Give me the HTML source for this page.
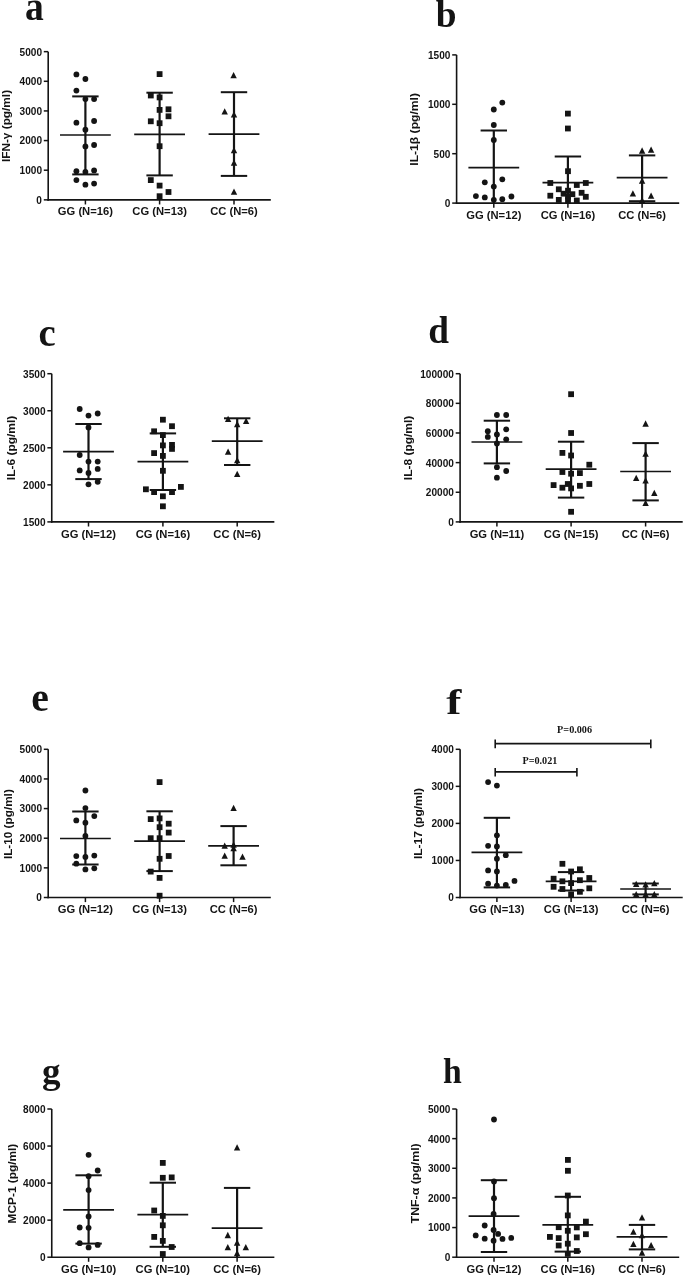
<!DOCTYPE html>
<html><head><meta charset="utf-8"><title>Cytokine levels by genotype</title>
<style>
html,body{margin:0;padding:0;background:#fff;}
body{width:685px;height:1277px;overflow:hidden;}
svg{display:block;will-change:transform;}
text{fill:#141414;}
.L{font-family:"Liberation Serif",serif;font-weight:bold;font-size:100px;}
.T text{font-family:"Liberation Sans",sans-serif;font-weight:bold;font-size:10.2px;text-anchor:end;}
.X text{font-family:"Liberation Sans",sans-serif;font-weight:bold;font-size:11.0px;text-anchor:middle;}
.Y{font-family:"Liberation Sans",sans-serif;font-weight:bold;font-size:11.2px;text-anchor:middle;}
.P{font-family:"Liberation Serif",serif;font-weight:bold;font-size:10.2px;text-anchor:middle;}
</style></head>
<body><svg width="685" height="1277" viewBox="0 0 685 1277">
<rect width="685" height="1277" fill="#fff"/>
<text class="L" transform="matrix(0.37558,0,0,0.39666,24.89,19.91)">a</text>
<g stroke="#141414" stroke-linecap="butt" fill="none">
<line x1="48.2" y1="51.65" x2="48.2" y2="200.65" stroke-width="1.6"/>
<line x1="47.4" y1="199.85" x2="270.8" y2="199.85" stroke-width="1.6"/>
<line x1="43.8" y1="199.85" x2="48.2" y2="199.85" stroke-width="1.5"/>
<line x1="43.8" y1="170.21" x2="48.2" y2="170.21" stroke-width="1.5"/>
<line x1="43.8" y1="140.57" x2="48.2" y2="140.57" stroke-width="1.5"/>
<line x1="43.8" y1="110.93" x2="48.2" y2="110.93" stroke-width="1.5"/>
<line x1="43.8" y1="81.29" x2="48.2" y2="81.29" stroke-width="1.5"/>
<line x1="43.8" y1="51.65" x2="48.2" y2="51.65" stroke-width="1.5"/>
<line x1="85.4" y1="199.85" x2="85.4" y2="204.45" stroke-width="1.5"/>
<line x1="159.6" y1="199.85" x2="159.6" y2="204.45" stroke-width="1.5"/>
<line x1="234" y1="199.85" x2="234" y2="204.45" stroke-width="1.5"/>
</g>
<g class="T">
<text transform="translate(42,203.75) scale(0.99,1.06)">0</text>
<text transform="translate(42,174.11) scale(0.99,1.06)">1000</text>
<text transform="translate(42,144.47) scale(0.99,1.06)">2000</text>
<text transform="translate(42,114.83) scale(0.99,1.06)">3000</text>
<text transform="translate(42,85.19) scale(0.99,1.06)">4000</text>
<text transform="translate(42,55.55) scale(0.99,1.06)">5000</text>
</g>
<g class="X">
<text transform="translate(85.4,215.45) scale(1.02,1.06)">GG (N=16)</text>
<text transform="translate(159.6,215.45) scale(1.02,1.06)">CG (N=13)</text>
<text transform="translate(234,215.45) scale(1.02,1.06)">CC (N=6)</text>
</g>
<text class="Y" transform="translate(10.4,126) rotate(-90)" x="0" y="0" textLength="72.2" lengthAdjust="spacingAndGlyphs">IFN-γ (pg/ml)</text>
<g fill="#141414">
<circle cx="76.4" cy="74.4" r="2.9"/>
<circle cx="85.4" cy="79" r="2.9"/>
<circle cx="76.4" cy="90.6" r="2.9"/>
<circle cx="85.4" cy="99.1" r="2.9"/>
<circle cx="94.1" cy="99.1" r="2.9"/>
<circle cx="76.4" cy="122.7" r="2.9"/>
<circle cx="94.1" cy="121" r="2.9"/>
<circle cx="85.4" cy="129.7" r="2.9"/>
<circle cx="85.4" cy="146.4" r="2.9"/>
<circle cx="94.1" cy="145" r="2.9"/>
<circle cx="76.4" cy="171.2" r="2.9"/>
<circle cx="85.4" cy="171.9" r="2.9"/>
<circle cx="94.1" cy="170.4" r="2.9"/>
<circle cx="76.4" cy="180.1" r="2.9"/>
<circle cx="85.4" cy="184.7" r="2.9"/>
<circle cx="94.1" cy="183.6" r="2.9"/>
<rect x="156.7" y="71.2" width="5.8" height="5.8"/>
<rect x="147.9" y="92.6" width="5.8" height="5.8"/>
<rect x="156.7" y="94.5" width="5.8" height="5.8"/>
<rect x="156.7" y="107" width="5.8" height="5.8"/>
<rect x="165.6" y="106.4" width="5.8" height="5.8"/>
<rect x="165.6" y="113.4" width="5.8" height="5.8"/>
<rect x="147.9" y="118.4" width="5.8" height="5.8"/>
<rect x="156.7" y="120.3" width="5.8" height="5.8"/>
<rect x="156.7" y="143.3" width="5.8" height="5.8"/>
<rect x="147.9" y="177.2" width="5.8" height="5.8"/>
<rect x="156.7" y="182.7" width="5.8" height="5.8"/>
<rect x="165.6" y="189.1" width="5.8" height="5.8"/>
<rect x="156.7" y="193.3" width="5.8" height="5.8"/>
<polygon points="233.6,72.03 230.4,78.33 236.8,78.33"/>
<polygon points="224.7,108.13 221.5,114.43 227.9,114.43"/>
<polygon points="234,111.23 230.8,117.53 237.2,117.53"/>
<polygon points="234,146.94 230.8,153.24 237.2,153.24"/>
<polygon points="234,159.44 230.8,165.74 237.2,165.74"/>
<polygon points="234,188.53 230.8,194.84 237.2,194.84"/>
</g>
<g stroke="#141414" fill="none">
<line x1="85.4" y1="96.4" x2="85.4" y2="174.4" stroke-width="2.2"/>
<line x1="72.2" y1="96.4" x2="98.6" y2="96.4" stroke-width="2"/>
<line x1="72.2" y1="174.4" x2="98.6" y2="174.4" stroke-width="2"/>
<line x1="60" y1="135" x2="110.8" y2="135" stroke-width="1.7"/>
<line x1="159.6" y1="92.7" x2="159.6" y2="175.4" stroke-width="2.2"/>
<line x1="146.4" y1="92.7" x2="172.8" y2="92.7" stroke-width="2"/>
<line x1="146.4" y1="175.4" x2="172.8" y2="175.4" stroke-width="2"/>
<line x1="134.2" y1="134.3" x2="185" y2="134.3" stroke-width="1.7"/>
<line x1="234" y1="92.2" x2="234" y2="175.9" stroke-width="2.2"/>
<line x1="220.8" y1="92.2" x2="247.2" y2="92.2" stroke-width="2"/>
<line x1="220.8" y1="175.9" x2="247.2" y2="175.9" stroke-width="2"/>
<line x1="208.6" y1="134.2" x2="259.4" y2="134.2" stroke-width="1.7"/>
</g>
<text class="L" transform="matrix(0.37381,0,0,0.37378,435.73,26.83)">b</text>
<g stroke="#141414" stroke-linecap="butt" fill="none">
<line x1="456.6" y1="54.9" x2="456.6" y2="203.9" stroke-width="1.6"/>
<line x1="455.8" y1="203.1" x2="679.2" y2="203.1" stroke-width="1.6"/>
<line x1="452.2" y1="203.1" x2="456.6" y2="203.1" stroke-width="1.5"/>
<line x1="452.2" y1="153.7" x2="456.6" y2="153.7" stroke-width="1.5"/>
<line x1="452.2" y1="104.3" x2="456.6" y2="104.3" stroke-width="1.5"/>
<line x1="452.2" y1="54.9" x2="456.6" y2="54.9" stroke-width="1.5"/>
<line x1="493.8" y1="203.1" x2="493.8" y2="207.7" stroke-width="1.5"/>
<line x1="567.9" y1="203.1" x2="567.9" y2="207.7" stroke-width="1.5"/>
<line x1="642.1" y1="203.1" x2="642.1" y2="207.7" stroke-width="1.5"/>
</g>
<g class="T">
<text transform="translate(450.4,207) scale(0.99,1.06)">0</text>
<text transform="translate(450.4,157.6) scale(0.99,1.06)">500</text>
<text transform="translate(450.4,108.2) scale(0.99,1.06)">1000</text>
<text transform="translate(450.4,58.8) scale(0.99,1.06)">1500</text>
</g>
<g class="X">
<text transform="translate(493.8,218.7) scale(1.02,1.06)">GG (N=12)</text>
<text transform="translate(567.9,218.7) scale(1.02,1.06)">CG (N=16)</text>
<text transform="translate(642.1,218.7) scale(1.02,1.06)">CC (N=6)</text>
</g>
<text class="Y" transform="translate(418.4,129.35) rotate(-90)" x="0" y="0" textLength="72.7" lengthAdjust="spacingAndGlyphs">IL-1β (pg/ml)</text>
<g fill="#141414">
<circle cx="502.3" cy="102.6" r="2.9"/>
<circle cx="493.8" cy="109.5" r="2.9"/>
<circle cx="493.8" cy="125" r="2.9"/>
<circle cx="493.8" cy="140" r="2.9"/>
<circle cx="484.8" cy="182.3" r="2.9"/>
<circle cx="502.3" cy="179.3" r="2.9"/>
<circle cx="493.8" cy="186.6" r="2.9"/>
<circle cx="475.9" cy="196.1" r="2.9"/>
<circle cx="484.8" cy="197.4" r="2.9"/>
<circle cx="493.8" cy="199.8" r="2.9"/>
<circle cx="502.3" cy="199.2" r="2.9"/>
<circle cx="511.4" cy="196.5" r="2.9"/>
<rect x="565" y="110.7" width="5.8" height="5.8"/>
<rect x="565" y="125.6" width="5.8" height="5.8"/>
<rect x="565.1" y="168.3" width="5.8" height="5.8"/>
<rect x="547.4" y="180.1" width="5.8" height="5.8"/>
<rect x="582.9" y="180.1" width="5.8" height="5.8"/>
<rect x="573.9" y="182.1" width="5.8" height="5.8"/>
<rect x="555.9" y="186.4" width="5.8" height="5.8"/>
<rect x="565.1" y="187.8" width="5.8" height="5.8"/>
<rect x="547.4" y="192.8" width="5.8" height="5.8"/>
<rect x="560.7" y="190.8" width="5.8" height="5.8"/>
<rect x="569.5" y="191.3" width="5.8" height="5.8"/>
<rect x="578.7" y="189.9" width="5.8" height="5.8"/>
<rect x="582.9" y="193.9" width="5.8" height="5.8"/>
<rect x="555.9" y="197" width="5.8" height="5.8"/>
<rect x="565.1" y="197.4" width="5.8" height="5.8"/>
<rect x="573.9" y="197.6" width="5.8" height="5.8"/>
<rect x="565.1" y="193.6" width="5.8" height="5.8"/>
<polygon points="642.1,147.34 638.9,153.64 645.3,153.64"/>
<polygon points="651.1,146.44 647.9,152.74 654.3,152.74"/>
<polygon points="642.1,177.53 638.9,183.84 645.3,183.84"/>
<polygon points="632.9,190.23 629.7,196.53 636.1,196.53"/>
<polygon points="651.1,192.44 647.9,198.74 654.3,198.74"/>
<polygon points="642.1,197.03 638.9,203.34 645.3,203.34"/>
</g>
<g stroke="#141414" fill="none">
<line x1="493.8" y1="130.5" x2="493.8" y2="203.1" stroke-width="2.2"/>
<line x1="480.6" y1="130.5" x2="507" y2="130.5" stroke-width="2"/>
<line x1="468.4" y1="167.7" x2="519.2" y2="167.7" stroke-width="1.7"/>
<line x1="567.9" y1="156.5" x2="567.9" y2="203.1" stroke-width="2.2"/>
<line x1="554.7" y1="156.5" x2="581.1" y2="156.5" stroke-width="2"/>
<line x1="542.5" y1="182.6" x2="593.3" y2="182.6" stroke-width="1.7"/>
<line x1="642.1" y1="155.4" x2="642.1" y2="201.2" stroke-width="2.2"/>
<line x1="628.9" y1="155.4" x2="655.3" y2="155.4" stroke-width="2"/>
<line x1="628.9" y1="201.2" x2="655.3" y2="201.2" stroke-width="2"/>
<line x1="616.7" y1="177.7" x2="667.5" y2="177.7" stroke-width="1.7"/>
</g>
<text class="L" transform="matrix(0.38725,0,0,0.39545,38.38,345.93)">c</text>
<g stroke="#141414" stroke-linecap="butt" fill="none">
<line x1="51.75" y1="373.7" x2="51.75" y2="522.7" stroke-width="1.6"/>
<line x1="50.95" y1="521.9" x2="274.35" y2="521.9" stroke-width="1.6"/>
<line x1="47.35" y1="521.9" x2="51.75" y2="521.9" stroke-width="1.5"/>
<line x1="47.35" y1="484.85" x2="51.75" y2="484.85" stroke-width="1.5"/>
<line x1="47.35" y1="447.8" x2="51.75" y2="447.8" stroke-width="1.5"/>
<line x1="47.35" y1="410.75" x2="51.75" y2="410.75" stroke-width="1.5"/>
<line x1="47.35" y1="373.7" x2="51.75" y2="373.7" stroke-width="1.5"/>
<line x1="88.5" y1="521.9" x2="88.5" y2="526.5" stroke-width="1.5"/>
<line x1="162.9" y1="521.9" x2="162.9" y2="526.5" stroke-width="1.5"/>
<line x1="237.2" y1="521.9" x2="237.2" y2="526.5" stroke-width="1.5"/>
</g>
<g class="T">
<text transform="translate(45.55,525.8) scale(0.99,1.06)">1500</text>
<text transform="translate(45.55,488.75) scale(0.99,1.06)">2000</text>
<text transform="translate(45.55,451.7) scale(0.99,1.06)">2500</text>
<text transform="translate(45.55,414.65) scale(0.99,1.06)">3000</text>
<text transform="translate(45.55,377.6) scale(0.99,1.06)">3500</text>
</g>
<g class="X">
<text transform="translate(88.5,537.5) scale(1.02,1.06)">GG (N=12)</text>
<text transform="translate(162.9,537.5) scale(1.02,1.06)">CG (N=16)</text>
<text transform="translate(237.2,537.5) scale(1.02,1.06)">CC (N=6)</text>
</g>
<text class="Y" transform="translate(14.9,447.95) rotate(-90)" x="0" y="0" textLength="64.5" lengthAdjust="spacingAndGlyphs">IL-6 (pg/ml)</text>
<g fill="#141414">
<circle cx="79.7" cy="409" r="2.9"/>
<circle cx="88.5" cy="415.6" r="2.9"/>
<circle cx="97.7" cy="413.5" r="2.9"/>
<circle cx="88.5" cy="427.4" r="2.9"/>
<circle cx="79.7" cy="455" r="2.9"/>
<circle cx="88.5" cy="461.6" r="2.9"/>
<circle cx="97.7" cy="461.6" r="2.9"/>
<circle cx="79.7" cy="470.4" r="2.9"/>
<circle cx="97.7" cy="468.9" r="2.9"/>
<circle cx="88.5" cy="473" r="2.9"/>
<circle cx="88.5" cy="484.3" r="2.9"/>
<circle cx="97.7" cy="481.8" r="2.9"/>
<rect x="160" y="416.8" width="5.8" height="5.8"/>
<rect x="169.1" y="423.3" width="5.8" height="5.8"/>
<rect x="151.2" y="428.4" width="5.8" height="5.8"/>
<rect x="160" y="432.2" width="5.8" height="5.8"/>
<rect x="160" y="442.5" width="5.8" height="5.8"/>
<rect x="169.1" y="442" width="5.8" height="5.8"/>
<rect x="169.1" y="446" width="5.8" height="5.8"/>
<rect x="151.2" y="450.2" width="5.8" height="5.8"/>
<rect x="160" y="453" width="5.8" height="5.8"/>
<rect x="160" y="467.9" width="5.8" height="5.8"/>
<rect x="143" y="486.4" width="5.8" height="5.8"/>
<rect x="151.2" y="489.2" width="5.8" height="5.8"/>
<rect x="169.1" y="489.2" width="5.8" height="5.8"/>
<rect x="178" y="484" width="5.8" height="5.8"/>
<rect x="160" y="493.4" width="5.8" height="5.8"/>
<rect x="160" y="503.4" width="5.8" height="5.8"/>
<polygon points="228.1,415.74 224.9,422.03 231.3,422.03"/>
<polygon points="246.1,417.64 242.9,423.94 249.3,423.94"/>
<polygon points="237.2,420.84 234,427.13 240.4,427.13"/>
<polygon points="228.1,448.44 224.9,454.73 231.3,454.73"/>
<polygon points="237.2,457.04 234,463.33 240.4,463.33"/>
<polygon points="237.2,470.64 234,476.94 240.4,476.94"/>
</g>
<g stroke="#141414" fill="none">
<line x1="88.5" y1="424" x2="88.5" y2="479.1" stroke-width="2.2"/>
<line x1="75.3" y1="424" x2="101.7" y2="424" stroke-width="2"/>
<line x1="75.3" y1="479.1" x2="101.7" y2="479.1" stroke-width="2"/>
<line x1="63.1" y1="451.6" x2="113.9" y2="451.6" stroke-width="1.7"/>
<line x1="162.9" y1="433.4" x2="162.9" y2="490" stroke-width="2.2"/>
<line x1="149.7" y1="433.4" x2="176.1" y2="433.4" stroke-width="2"/>
<line x1="149.7" y1="490" x2="176.1" y2="490" stroke-width="2"/>
<line x1="137.5" y1="461.7" x2="188.3" y2="461.7" stroke-width="1.7"/>
<line x1="237.2" y1="418.3" x2="237.2" y2="465" stroke-width="2.2"/>
<line x1="224" y1="418.3" x2="250.4" y2="418.3" stroke-width="2"/>
<line x1="224" y1="465" x2="250.4" y2="465" stroke-width="2"/>
<line x1="211.8" y1="441.2" x2="262.6" y2="441.2" stroke-width="1.7"/>
</g>
<text class="L" transform="matrix(0.37272,0,0,0.37094,428.19,342.74)">d</text>
<g stroke="#141414" stroke-linecap="butt" fill="none">
<line x1="460.1" y1="373.7" x2="460.1" y2="522.7" stroke-width="1.6"/>
<line x1="459.3" y1="521.9" x2="682.7" y2="521.9" stroke-width="1.6"/>
<line x1="455.7" y1="521.9" x2="460.1" y2="521.9" stroke-width="1.5"/>
<line x1="455.7" y1="492.26" x2="460.1" y2="492.26" stroke-width="1.5"/>
<line x1="455.7" y1="462.62" x2="460.1" y2="462.62" stroke-width="1.5"/>
<line x1="455.7" y1="432.98" x2="460.1" y2="432.98" stroke-width="1.5"/>
<line x1="455.7" y1="403.34" x2="460.1" y2="403.34" stroke-width="1.5"/>
<line x1="455.7" y1="373.7" x2="460.1" y2="373.7" stroke-width="1.5"/>
<line x1="496.9" y1="521.9" x2="496.9" y2="526.5" stroke-width="1.5"/>
<line x1="571.1" y1="521.9" x2="571.1" y2="526.5" stroke-width="1.5"/>
<line x1="645.6" y1="521.9" x2="645.6" y2="526.5" stroke-width="1.5"/>
</g>
<g class="T">
<text transform="translate(453.9,525.8) scale(0.99,1.06)">0</text>
<text transform="translate(453.9,496.16) scale(0.99,1.06)">20000</text>
<text transform="translate(453.9,466.52) scale(0.99,1.06)">40000</text>
<text transform="translate(453.9,436.88) scale(0.99,1.06)">60000</text>
<text transform="translate(453.9,407.24) scale(0.99,1.06)">80000</text>
<text transform="translate(453.9,377.6) scale(0.99,1.06)">100000</text>
</g>
<g class="X">
<text transform="translate(496.9,537.5) scale(1.02,1.06)">GG (N=11)</text>
<text transform="translate(571.1,537.5) scale(1.02,1.06)">CG (N=15)</text>
<text transform="translate(645.6,537.5) scale(1.02,1.06)">CC (N=6)</text>
</g>
<text class="Y" transform="translate(411.7,447.95) rotate(-90)" x="0" y="0" textLength="64.5" lengthAdjust="spacingAndGlyphs">IL-8 (pg/ml)</text>
<g fill="#141414">
<circle cx="496.9" cy="415" r="2.9"/>
<circle cx="506.2" cy="415" r="2.9"/>
<circle cx="487.8" cy="431.2" r="2.9"/>
<circle cx="506.2" cy="429.3" r="2.9"/>
<circle cx="496.9" cy="434.4" r="2.9"/>
<circle cx="487.8" cy="436.9" r="2.9"/>
<circle cx="506.2" cy="439.3" r="2.9"/>
<circle cx="496.9" cy="443.5" r="2.9"/>
<circle cx="496.9" cy="467.2" r="2.9"/>
<circle cx="506.2" cy="471" r="2.9"/>
<circle cx="496.9" cy="477.7" r="2.9"/>
<rect x="568.2" y="391.3" width="5.8" height="5.8"/>
<rect x="568.2" y="430.1" width="5.8" height="5.8"/>
<rect x="559.5" y="450" width="5.8" height="5.8"/>
<rect x="568.2" y="452.6" width="5.8" height="5.8"/>
<rect x="586.4" y="461.8" width="5.8" height="5.8"/>
<rect x="559.5" y="469.1" width="5.8" height="5.8"/>
<rect x="568.2" y="470.8" width="5.8" height="5.8"/>
<rect x="577" y="470.2" width="5.8" height="5.8"/>
<rect x="550.7" y="482.2" width="5.8" height="5.8"/>
<rect x="559.5" y="484.8" width="5.8" height="5.8"/>
<rect x="564.9" y="481.1" width="5.8" height="5.8"/>
<rect x="568.2" y="485.5" width="5.8" height="5.8"/>
<rect x="577" y="482.9" width="5.8" height="5.8"/>
<rect x="586.4" y="481.1" width="5.8" height="5.8"/>
<rect x="568.2" y="508.9" width="5.8" height="5.8"/>
<polygon points="645.6,420.34 642.4,426.63 648.8,426.63"/>
<polygon points="645.6,450.54 642.4,456.83 648.8,456.83"/>
<polygon points="636.2,474.64 633,480.94 639.4,480.94"/>
<polygon points="645.6,477.24 642.4,483.53 648.8,483.53"/>
<polygon points="654.3,489.74 651.1,496.03 657.5,496.03"/>
<polygon points="645.6,499.64 642.4,505.94 648.8,505.94"/>
</g>
<g stroke="#141414" fill="none">
<line x1="496.9" y1="420.7" x2="496.9" y2="463.4" stroke-width="2.2"/>
<line x1="483.7" y1="420.7" x2="510.1" y2="420.7" stroke-width="2"/>
<line x1="483.7" y1="463.4" x2="510.1" y2="463.4" stroke-width="2"/>
<line x1="471.5" y1="442" x2="522.3" y2="442" stroke-width="1.7"/>
<line x1="571.1" y1="441.7" x2="571.1" y2="497.6" stroke-width="2.2"/>
<line x1="557.9" y1="441.7" x2="584.3" y2="441.7" stroke-width="2"/>
<line x1="557.9" y1="497.6" x2="584.3" y2="497.6" stroke-width="2"/>
<line x1="545.7" y1="469.1" x2="596.5" y2="469.1" stroke-width="1.7"/>
<line x1="645.6" y1="443.1" x2="645.6" y2="500.4" stroke-width="2.2"/>
<line x1="632.4" y1="443.1" x2="658.8" y2="443.1" stroke-width="2"/>
<line x1="632.4" y1="500.4" x2="658.8" y2="500.4" stroke-width="2"/>
<line x1="620.2" y1="471.5" x2="671" y2="471.5" stroke-width="1.7"/>
</g>
<text class="L" transform="matrix(0.39605,0,0,0.39625,31.25,710.93)">e</text>
<g stroke="#141414" stroke-linecap="butt" fill="none">
<line x1="48.2" y1="749.3" x2="48.2" y2="898.3" stroke-width="1.6"/>
<line x1="47.4" y1="897.5" x2="270.8" y2="897.5" stroke-width="1.6"/>
<line x1="43.8" y1="897.5" x2="48.2" y2="897.5" stroke-width="1.5"/>
<line x1="43.8" y1="867.86" x2="48.2" y2="867.86" stroke-width="1.5"/>
<line x1="43.8" y1="838.22" x2="48.2" y2="838.22" stroke-width="1.5"/>
<line x1="43.8" y1="808.58" x2="48.2" y2="808.58" stroke-width="1.5"/>
<line x1="43.8" y1="778.94" x2="48.2" y2="778.94" stroke-width="1.5"/>
<line x1="43.8" y1="749.3" x2="48.2" y2="749.3" stroke-width="1.5"/>
<line x1="85.4" y1="897.5" x2="85.4" y2="902.1" stroke-width="1.5"/>
<line x1="159.6" y1="897.5" x2="159.6" y2="902.1" stroke-width="1.5"/>
<line x1="233.6" y1="897.5" x2="233.6" y2="902.1" stroke-width="1.5"/>
</g>
<g class="T">
<text transform="translate(42,901.4) scale(0.99,1.06)">0</text>
<text transform="translate(42,871.76) scale(0.99,1.06)">1000</text>
<text transform="translate(42,842.12) scale(0.99,1.06)">2000</text>
<text transform="translate(42,812.48) scale(0.99,1.06)">3000</text>
<text transform="translate(42,782.84) scale(0.99,1.06)">4000</text>
<text transform="translate(42,753.2) scale(0.99,1.06)">5000</text>
</g>
<g class="X">
<text transform="translate(85.4,913.1) scale(1.02,1.06)">GG (N=12)</text>
<text transform="translate(159.6,913.1) scale(1.02,1.06)">CG (N=13)</text>
<text transform="translate(233.6,913.1) scale(1.02,1.06)">CC (N=6)</text>
</g>
<text class="Y" transform="translate(11.9,824.15) rotate(-90)" x="0" y="0" textLength="69.9" lengthAdjust="spacingAndGlyphs">IL-10 (pg/ml)</text>
<g fill="#141414">
<circle cx="85.4" cy="790.5" r="2.9"/>
<circle cx="85.4" cy="808.1" r="2.9"/>
<circle cx="76.3" cy="820.4" r="2.9"/>
<circle cx="85.4" cy="822.7" r="2.9"/>
<circle cx="94.3" cy="816.1" r="2.9"/>
<circle cx="85.4" cy="836" r="2.9"/>
<circle cx="76.3" cy="856.1" r="2.9"/>
<circle cx="85.4" cy="856.9" r="2.9"/>
<circle cx="94.3" cy="855.6" r="2.9"/>
<circle cx="76.3" cy="863.7" r="2.9"/>
<circle cx="85.4" cy="869.4" r="2.9"/>
<circle cx="94.3" cy="868.3" r="2.9"/>
<rect x="156.7" y="779.2" width="5.8" height="5.8"/>
<rect x="147.8" y="816.2" width="5.8" height="5.8"/>
<rect x="156.7" y="815.5" width="5.8" height="5.8"/>
<rect x="165.8" y="820.8" width="5.8" height="5.8"/>
<rect x="156.7" y="824.3" width="5.8" height="5.8"/>
<rect x="165.8" y="829.7" width="5.8" height="5.8"/>
<rect x="147.8" y="835.3" width="5.8" height="5.8"/>
<rect x="156.7" y="835.3" width="5.8" height="5.8"/>
<rect x="165.8" y="853.1" width="5.8" height="5.8"/>
<rect x="156.7" y="855.9" width="5.8" height="5.8"/>
<rect x="147.8" y="868.7" width="5.8" height="5.8"/>
<rect x="156.7" y="875" width="5.8" height="5.8"/>
<rect x="156.7" y="892.8" width="5.8" height="5.8"/>
<polygon points="233.6,804.63 230.4,810.94 236.8,810.94"/>
<polygon points="224.7,842.43 221.5,848.74 227.9,848.74"/>
<polygon points="233.6,844.83 230.4,851.13 236.8,851.13"/>
<polygon points="224.7,852.53 221.5,858.84 227.9,858.84"/>
<polygon points="242.5,853.43 239.3,859.74 245.7,859.74"/>
<polygon points="233.6,841.53 230.4,847.84 236.8,847.84"/>
</g>
<g stroke="#141414" fill="none">
<line x1="85.4" y1="811.5" x2="85.4" y2="864.5" stroke-width="2.2"/>
<line x1="72.2" y1="811.5" x2="98.6" y2="811.5" stroke-width="2"/>
<line x1="72.2" y1="864.5" x2="98.6" y2="864.5" stroke-width="2"/>
<line x1="60" y1="838.5" x2="110.8" y2="838.5" stroke-width="1.7"/>
<line x1="159.6" y1="811.3" x2="159.6" y2="871.1" stroke-width="2.2"/>
<line x1="146.4" y1="811.3" x2="172.8" y2="811.3" stroke-width="2"/>
<line x1="146.4" y1="871.1" x2="172.8" y2="871.1" stroke-width="2"/>
<line x1="134.2" y1="841.2" x2="185" y2="841.2" stroke-width="1.7"/>
<line x1="233.6" y1="826.1" x2="233.6" y2="865.3" stroke-width="2.2"/>
<line x1="220.4" y1="826.1" x2="246.8" y2="826.1" stroke-width="2"/>
<line x1="220.4" y1="865.3" x2="246.8" y2="865.3" stroke-width="2"/>
<line x1="208.2" y1="845.9" x2="259" y2="845.9" stroke-width="1.7"/>
</g>
<text class="L" transform="matrix(0.45312,0,0,0.36500,446.37,713.9)">f</text>
<g stroke="#141414" stroke-linecap="butt" fill="none">
<line x1="460.1" y1="749.3" x2="460.1" y2="898.3" stroke-width="1.6"/>
<line x1="459.3" y1="897.5" x2="682.7" y2="897.5" stroke-width="1.6"/>
<line x1="455.7" y1="897.5" x2="460.1" y2="897.5" stroke-width="1.5"/>
<line x1="455.7" y1="860.45" x2="460.1" y2="860.45" stroke-width="1.5"/>
<line x1="455.7" y1="823.4" x2="460.1" y2="823.4" stroke-width="1.5"/>
<line x1="455.7" y1="786.35" x2="460.1" y2="786.35" stroke-width="1.5"/>
<line x1="455.7" y1="749.3" x2="460.1" y2="749.3" stroke-width="1.5"/>
<line x1="496.9" y1="897.5" x2="496.9" y2="902.1" stroke-width="1.5"/>
<line x1="571.1" y1="897.5" x2="571.1" y2="902.1" stroke-width="1.5"/>
<line x1="645.6" y1="897.5" x2="645.6" y2="902.1" stroke-width="1.5"/>
</g>
<g class="T">
<text transform="translate(453.9,901.4) scale(0.99,1.06)">0</text>
<text transform="translate(453.9,864.35) scale(0.99,1.06)">1000</text>
<text transform="translate(453.9,827.3) scale(0.99,1.06)">2000</text>
<text transform="translate(453.9,790.25) scale(0.99,1.06)">3000</text>
<text transform="translate(453.9,753.2) scale(0.99,1.06)">4000</text>
</g>
<g class="X">
<text transform="translate(496.9,913.1) scale(1.02,1.06)">GG (N=13)</text>
<text transform="translate(571.1,913.1) scale(1.02,1.06)">CG (N=13)</text>
<text transform="translate(645.6,913.1) scale(1.02,1.06)">CC (N=6)</text>
</g>
<text class="Y" transform="translate(421.8,823.55) rotate(-90)" x="0" y="0" textLength="71.1" lengthAdjust="spacingAndGlyphs">IL-17 (pg/ml)</text>
<g fill="#141414">
<circle cx="488.1" cy="782.1" r="2.9"/>
<circle cx="496.9" cy="785.6" r="2.9"/>
<circle cx="496.9" cy="835.3" r="2.9"/>
<circle cx="488.1" cy="845.8" r="2.9"/>
<circle cx="496.9" cy="846.5" r="2.9"/>
<circle cx="505.8" cy="855.2" r="2.9"/>
<circle cx="496.9" cy="858.7" r="2.9"/>
<circle cx="488.1" cy="870.4" r="2.9"/>
<circle cx="496.9" cy="871.5" r="2.9"/>
<circle cx="514.5" cy="880.9" r="2.9"/>
<circle cx="488.1" cy="883.7" r="2.9"/>
<circle cx="496.9" cy="885.6" r="2.9"/>
<circle cx="505.8" cy="884.9" r="2.9"/>
<rect x="559.5" y="860.9" width="5.8" height="5.8"/>
<rect x="568.2" y="868.6" width="5.8" height="5.8"/>
<rect x="577" y="866.4" width="5.8" height="5.8"/>
<rect x="550.7" y="875.8" width="5.8" height="5.8"/>
<rect x="559.5" y="878.4" width="5.8" height="5.8"/>
<rect x="568.2" y="880.2" width="5.8" height="5.8"/>
<rect x="577" y="877.3" width="5.8" height="5.8"/>
<rect x="586.4" y="875.1" width="5.8" height="5.8"/>
<rect x="550.7" y="883.9" width="5.8" height="5.8"/>
<rect x="559.5" y="886.1" width="5.8" height="5.8"/>
<rect x="577" y="888.9" width="5.8" height="5.8"/>
<rect x="586.4" y="885.4" width="5.8" height="5.8"/>
<rect x="568.2" y="891.5" width="5.8" height="5.8"/>
<polygon points="636.2,880.74 633,887.04 639.4,887.04"/>
<polygon points="645.6,881.13 642.4,887.44 648.8,887.44"/>
<polygon points="654.3,880.03 651.1,886.34 657.5,886.34"/>
<polygon points="636.2,890.93 633,897.24 639.4,897.24"/>
<polygon points="645.6,890.93 642.4,897.24 648.8,897.24"/>
<polygon points="654.3,890.93 651.1,897.24 657.5,897.24"/>
</g>
<g stroke="#141414" fill="none">
<line x1="496.9" y1="817.8" x2="496.9" y2="887.4" stroke-width="2.2"/>
<line x1="483.7" y1="817.8" x2="510.1" y2="817.8" stroke-width="2"/>
<line x1="483.7" y1="887.4" x2="510.1" y2="887.4" stroke-width="2"/>
<line x1="471.5" y1="852.4" x2="522.3" y2="852.4" stroke-width="1.7"/>
<line x1="571.1" y1="872.1" x2="571.1" y2="890.5" stroke-width="2.2"/>
<line x1="557.9" y1="872.1" x2="584.3" y2="872.1" stroke-width="2"/>
<line x1="557.9" y1="890.5" x2="584.3" y2="890.5" stroke-width="2"/>
<line x1="545.7" y1="881.3" x2="596.5" y2="881.3" stroke-width="1.7"/>
<line x1="645.6" y1="883.5" x2="645.6" y2="894.4" stroke-width="2.2"/>
<line x1="632.4" y1="883.5" x2="658.8" y2="883.5" stroke-width="2"/>
<line x1="632.4" y1="894.4" x2="658.8" y2="894.4" stroke-width="2"/>
<line x1="620.2" y1="889" x2="671" y2="889" stroke-width="1.7"/>
</g>
<text class="L" transform="matrix(0.37080,0,0,0.36382,42.02,1082.87)">g</text>
<g stroke="#141414" stroke-linecap="butt" fill="none">
<line x1="51.75" y1="1109" x2="51.75" y2="1258" stroke-width="1.6"/>
<line x1="50.95" y1="1257.2" x2="274.35" y2="1257.2" stroke-width="1.6"/>
<line x1="47.35" y1="1257.2" x2="51.75" y2="1257.2" stroke-width="1.5"/>
<line x1="47.35" y1="1220.15" x2="51.75" y2="1220.15" stroke-width="1.5"/>
<line x1="47.35" y1="1183.1" x2="51.75" y2="1183.1" stroke-width="1.5"/>
<line x1="47.35" y1="1146.05" x2="51.75" y2="1146.05" stroke-width="1.5"/>
<line x1="47.35" y1="1109" x2="51.75" y2="1109" stroke-width="1.5"/>
<line x1="88.6" y1="1257.2" x2="88.6" y2="1261.8" stroke-width="1.5"/>
<line x1="162.8" y1="1257.2" x2="162.8" y2="1261.8" stroke-width="1.5"/>
<line x1="237.1" y1="1257.2" x2="237.1" y2="1261.8" stroke-width="1.5"/>
</g>
<g class="T">
<text transform="translate(45.55,1261.1) scale(0.99,1.06)">0</text>
<text transform="translate(45.55,1224.05) scale(0.99,1.06)">2000</text>
<text transform="translate(45.55,1187) scale(0.99,1.06)">4000</text>
<text transform="translate(45.55,1149.95) scale(0.99,1.06)">6000</text>
<text transform="translate(45.55,1112.9) scale(0.99,1.06)">8000</text>
</g>
<g class="X">
<text transform="translate(88.6,1272.8) scale(1.02,1.06)">GG (N=10)</text>
<text transform="translate(162.8,1272.8) scale(1.02,1.06)">CG (N=10)</text>
<text transform="translate(237.1,1272.8) scale(1.02,1.06)">CC (N=6)</text>
</g>
<text class="Y" transform="translate(15.7,1183.55) rotate(-90)" x="0" y="0" textLength="79.7" lengthAdjust="spacingAndGlyphs">MCP-1 (pg/ml)</text>
<g fill="#141414">
<circle cx="88.6" cy="1154.8" r="2.9"/>
<circle cx="97.7" cy="1170.5" r="2.9"/>
<circle cx="88.6" cy="1176.2" r="2.9"/>
<circle cx="88.6" cy="1190.1" r="2.9"/>
<circle cx="88.6" cy="1216.4" r="2.9"/>
<circle cx="79.7" cy="1227.5" r="2.9"/>
<circle cx="88.6" cy="1227.8" r="2.9"/>
<circle cx="79.7" cy="1243.2" r="2.9"/>
<circle cx="97.7" cy="1244.9" r="2.9"/>
<circle cx="88.6" cy="1247.4" r="2.9"/>
<rect x="159.9" y="1160" width="5.8" height="5.8"/>
<rect x="159.9" y="1174.9" width="5.8" height="5.8"/>
<rect x="168.8" y="1174.5" width="5.8" height="5.8"/>
<rect x="151.3" y="1207.6" width="5.8" height="5.8"/>
<rect x="159.9" y="1213" width="5.8" height="5.8"/>
<rect x="159.9" y="1222.4" width="5.8" height="5.8"/>
<rect x="151.3" y="1234" width="5.8" height="5.8"/>
<rect x="159.9" y="1238" width="5.8" height="5.8"/>
<rect x="168.8" y="1244.1" width="5.8" height="5.8"/>
<rect x="159.9" y="1251.1" width="5.8" height="5.8"/>
<polygon points="237.1,1144.24 233.9,1150.54 240.3,1150.54"/>
<polygon points="227.8,1231.84 224.6,1238.13 231,1238.13"/>
<polygon points="227.8,1244.04 224.6,1250.34 231,1250.34"/>
<polygon points="237.1,1239.34 233.9,1245.63 240.3,1245.63"/>
<polygon points="245.8,1244.04 242.6,1250.34 249,1250.34"/>
<polygon points="237.1,1249.84 233.9,1256.13 240.3,1256.13"/>
</g>
<g stroke="#141414" fill="none">
<line x1="88.6" y1="1175.3" x2="88.6" y2="1243.6" stroke-width="2.2"/>
<line x1="75.4" y1="1175.3" x2="101.8" y2="1175.3" stroke-width="2"/>
<line x1="75.4" y1="1243.6" x2="101.8" y2="1243.6" stroke-width="2"/>
<line x1="63.2" y1="1209.8" x2="114" y2="1209.8" stroke-width="1.7"/>
<line x1="162.8" y1="1182.7" x2="162.8" y2="1246.8" stroke-width="2.2"/>
<line x1="149.6" y1="1182.7" x2="176" y2="1182.7" stroke-width="2"/>
<line x1="149.6" y1="1246.8" x2="176" y2="1246.8" stroke-width="2"/>
<line x1="137.4" y1="1214.7" x2="188.2" y2="1214.7" stroke-width="1.7"/>
<line x1="237.1" y1="1187.9" x2="237.1" y2="1257.2" stroke-width="2.2"/>
<line x1="223.9" y1="1187.9" x2="250.3" y2="1187.9" stroke-width="2"/>
<line x1="211.7" y1="1228.1" x2="262.5" y2="1228.1" stroke-width="1.7"/>
</g>
<text class="L" transform="matrix(0.33714,0,0,0.35310,443.06,1082.7)">h</text>
<g stroke="#141414" stroke-linecap="butt" fill="none">
<line x1="456.6" y1="1109" x2="456.6" y2="1258" stroke-width="1.6"/>
<line x1="455.8" y1="1257.2" x2="679.2" y2="1257.2" stroke-width="1.6"/>
<line x1="452.2" y1="1257.2" x2="456.6" y2="1257.2" stroke-width="1.5"/>
<line x1="452.2" y1="1227.56" x2="456.6" y2="1227.56" stroke-width="1.5"/>
<line x1="452.2" y1="1197.92" x2="456.6" y2="1197.92" stroke-width="1.5"/>
<line x1="452.2" y1="1168.28" x2="456.6" y2="1168.28" stroke-width="1.5"/>
<line x1="452.2" y1="1138.64" x2="456.6" y2="1138.64" stroke-width="1.5"/>
<line x1="452.2" y1="1109" x2="456.6" y2="1109" stroke-width="1.5"/>
<line x1="494" y1="1257.2" x2="494" y2="1261.8" stroke-width="1.5"/>
<line x1="567.8" y1="1257.2" x2="567.8" y2="1261.8" stroke-width="1.5"/>
<line x1="642" y1="1257.2" x2="642" y2="1261.8" stroke-width="1.5"/>
</g>
<g class="T">
<text transform="translate(450.4,1261.1) scale(0.99,1.06)">0</text>
<text transform="translate(450.4,1231.46) scale(0.99,1.06)">1000</text>
<text transform="translate(450.4,1201.82) scale(0.99,1.06)">2000</text>
<text transform="translate(450.4,1172.18) scale(0.99,1.06)">3000</text>
<text transform="translate(450.4,1142.54) scale(0.99,1.06)">4000</text>
<text transform="translate(450.4,1112.9) scale(0.99,1.06)">5000</text>
</g>
<g class="X">
<text transform="translate(494,1272.8) scale(1.02,1.06)">GG (N=12)</text>
<text transform="translate(567.8,1272.8) scale(1.02,1.06)">CG (N=16)</text>
<text transform="translate(642,1272.8) scale(1.02,1.06)">CC (N=6)</text>
</g>
<text class="Y" transform="translate(419.2,1183.35) rotate(-90)" x="0" y="0" textLength="80.1" lengthAdjust="spacingAndGlyphs">TNF-α (pg/ml)</text>
<g fill="#141414">
<circle cx="494" cy="1119.5" r="2.9"/>
<circle cx="494" cy="1181.4" r="2.9"/>
<circle cx="494" cy="1198.2" r="2.9"/>
<circle cx="493.6" cy="1213.9" r="2.9"/>
<circle cx="484.7" cy="1225.5" r="2.9"/>
<circle cx="493.6" cy="1230" r="2.9"/>
<circle cx="498.1" cy="1233.9" r="2.9"/>
<circle cx="475.7" cy="1235.4" r="2.9"/>
<circle cx="484.7" cy="1238.7" r="2.9"/>
<circle cx="493.6" cy="1240.7" r="2.9"/>
<circle cx="502.5" cy="1238.9" r="2.9"/>
<circle cx="511.2" cy="1237.9" r="2.9"/>
<rect x="565" y="1157" width="5.8" height="5.8"/>
<rect x="565" y="1167.9" width="5.8" height="5.8"/>
<rect x="564.9" y="1192.6" width="5.8" height="5.8"/>
<rect x="564.9" y="1212.5" width="5.8" height="5.8"/>
<rect x="583" y="1218.7" width="5.8" height="5.8"/>
<rect x="555.8" y="1224.3" width="5.8" height="5.8"/>
<rect x="573.9" y="1224.5" width="5.8" height="5.8"/>
<rect x="564.9" y="1227.9" width="5.8" height="5.8"/>
<rect x="583" y="1231.3" width="5.8" height="5.8"/>
<rect x="547" y="1234" width="5.8" height="5.8"/>
<rect x="555.8" y="1235.2" width="5.8" height="5.8"/>
<rect x="573.9" y="1234.5" width="5.8" height="5.8"/>
<rect x="555.8" y="1242.6" width="5.8" height="5.8"/>
<rect x="564.9" y="1240.8" width="5.8" height="5.8"/>
<rect x="573.9" y="1248.1" width="5.8" height="5.8"/>
<rect x="564.9" y="1251" width="5.8" height="5.8"/>
<polygon points="642,1214.24 638.8,1220.54 645.2,1220.54"/>
<polygon points="633.4,1228.54 630.2,1234.84 636.6,1234.84"/>
<polygon points="642,1231.94 638.8,1238.24 645.2,1238.24"/>
<polygon points="633.4,1240.74 630.2,1247.04 636.6,1247.04"/>
<polygon points="651.1,1242.04 647.9,1248.34 654.3,1248.34"/>
<polygon points="642,1249.34 638.8,1255.63 645.2,1255.63"/>
</g>
<g stroke="#141414" fill="none">
<line x1="494" y1="1180.2" x2="494" y2="1252" stroke-width="2.2"/>
<line x1="480.8" y1="1180.2" x2="507.2" y2="1180.2" stroke-width="2"/>
<line x1="480.8" y1="1252" x2="507.2" y2="1252" stroke-width="2"/>
<line x1="468.6" y1="1216.1" x2="519.4" y2="1216.1" stroke-width="1.7"/>
<line x1="567.8" y1="1196.8" x2="567.8" y2="1251.6" stroke-width="2.2"/>
<line x1="554.6" y1="1196.8" x2="581" y2="1196.8" stroke-width="2"/>
<line x1="554.6" y1="1251.6" x2="581" y2="1251.6" stroke-width="2"/>
<line x1="542.4" y1="1224.9" x2="593.2" y2="1224.9" stroke-width="1.7"/>
<line x1="642" y1="1224.9" x2="642" y2="1249.4" stroke-width="2.2"/>
<line x1="628.8" y1="1224.9" x2="655.2" y2="1224.9" stroke-width="2"/>
<line x1="628.8" y1="1249.4" x2="655.2" y2="1249.4" stroke-width="2"/>
<line x1="616.6" y1="1236.9" x2="667.4" y2="1236.9" stroke-width="1.7"/>
</g>
<g stroke="#141414" fill="none">
<line x1="495.2" y1="743.6" x2="650.8" y2="743.6" stroke-width="1.7"/>
<line x1="495.2" y1="739.6" x2="495.2" y2="748.2" stroke-width="1.6"/>
<line x1="650.8" y1="739.6" x2="650.8" y2="748.2" stroke-width="1.6"/>
<line x1="495.2" y1="771.9" x2="576.9" y2="771.9" stroke-width="1.7"/>
<line x1="495.2" y1="767.9" x2="495.2" y2="776.5" stroke-width="1.6"/>
<line x1="576.9" y1="767.9" x2="576.9" y2="776.5" stroke-width="1.6"/>
</g>
<text class="P" x="574.6" y="733.3">P=0.006</text>
<text class="P" x="539.9" y="764.2">P=0.021</text>
</svg></body></html>
